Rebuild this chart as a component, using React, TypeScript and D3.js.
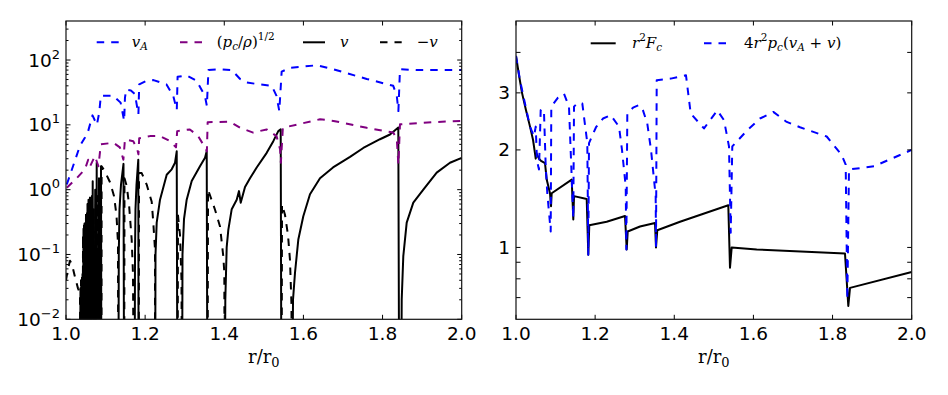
import React from 'react';
import * as d3 from 'd3';

// v changes sign: drop the curve off the bottom of the log axis
const LOW = 1e-4;

// ---- left panel (log y) ----
const vAlfven: [number, number][] = [
  [1.002, 1.2], [1.035, 4.7], [1.048, 6.4], [1.056, 8], [1.067, 14], [1.078, 10], [1.084, 15.5],
  [1.088, 28], [1.120, 28], [1.138, 22], [1.147, 11.5], [1.149, 26], [1.152, 35], [1.164, 34],
  [1.174, 30], [1.183, 14.5], [1.185, 42], [1.204, 48], [1.221, 49], [1.254, 42], [1.271, 28],
  [1.280, 17], [1.282, 55], [1.305, 58], [1.330, 48], [1.351, 28], [1.356, 19.6], [1.360, 70],
  [1.389, 72], [1.419, 70], [1.440, 51], [1.457, 45], [1.490, 42], [1.520, 40], [1.532, 28],
  [1.539, 16.3], [1.545, 66], [1.566, 76], [1.634, 83], [1.676, 72], [1.760, 51], [1.827, 40],
  [1.836, 28], [1.840, 16.3], [1.844, 72], [1.886, 70], [2.0, 70],
];

const soundSpeed: [number, number][] = [
  [1.002, 1.07], [1.027, 1.5], [1.048, 2.06], [1.056, 2.9], [1.061, 2.3], [1.073, 3.3], [1.082, 2.3],
  [1.088, 5.0], [1.120, 5.3], [1.136, 4.5], [1.145, 2.9], [1.149, 6], [1.170, 5.6], [1.180, 4.2],
  [1.183, 3.5], [1.185, 6.2], [1.212, 6.7], [1.238, 6.7], [1.263, 5.6], [1.278, 4.5], [1.281, 8],
  [1.313, 8.5], [1.334, 6.7], [1.351, 4.5], [1.356, 3.9], [1.358, 11], [1.414, 11.2], [1.440, 9],
  [1.473, 7.6], [1.507, 8.5], [1.532, 6.7], [1.541, 4.2], [1.543, 2.6], [1.548, 9], [1.642, 12.2],
  [1.676, 11.5], [1.760, 9], [1.827, 7.6], [1.836, 6], [1.840, 2.45], [1.844, 10.2], [1.928, 11],
  [2.0, 11.5],
];

const vPos: [number, number][] = [
  [1.0354, LOW], [1.0366, 0.03], [1.0379, LOW], [1.0392, 0.04], [1.0404, LOW], [1.0417, 0.05],
  [1.0430, LOW], [1.0442, 0.25], [1.0455, LOW], [1.0468, 0.3], [1.0480, LOW], [1.0493, 0.3],
  [1.0505, LOW], [1.0518, 0.35], [1.0531, LOW], [1.0543, 0.6], [1.0556, LOW], [1.0569, 0.7],
  [1.0581, LOW], [1.0594, 0.55], [1.0607, LOW], [1.0619, 0.7], [1.0632, LOW], [1.0645, 0.6],
  [1.0657, LOW], [1.0675, 1.35], [1.0690, LOW],
  [1.0720, LOW], [1.0738, 1.0], [1.0748, LOW],
  [1.0763, LOW], [1.0776, 2.6], [1.0786, LOW],
  [1.0821, LOW], [1.0834, 1.5], [1.0844, LOW],
  [1.0867, LOW], [1.0885, 2.3], [1.0895, LOW],
  [1.1322, LOW], [1.1334, 0.1], [1.1352, 0.5], [1.1390, 1.2], [1.1453, 2.5], [1.1471, LOW],
  [1.1731, LOW], [1.1744, 0.1], [1.1756, 0.5], [1.1782, 1.2], [1.1827, 2.9], [1.1837, LOW],
  [1.2249, LOW], [1.2262, 0.1], [1.2292, 0.31], [1.2376, 0.7], [1.2545, 1.7], [1.2671, 2.06],
  [1.2755, 2.6], [1.2798, 3.9], [1.2818, LOW],
  [1.2932, LOW], [1.2944, 0.1], [1.2982, 0.35], [1.3050, 0.7], [1.3177, 1.36], [1.3386, 2.3],
  [1.3513, 3.1], [1.3556, 3.9], [1.3576, LOW],
  [1.4011, LOW], [1.4026, 0.02], [1.4061, 0.13], [1.4102, 0.24], [1.4188, 0.5], [1.4314, 0.7],
  [1.4372, 0.95], [1.4415, 0.63], [1.4524, 1.1], [1.4650, 1.5], [1.4819, 2.2], [1.5072, 3.7],
  [1.5239, 5.6], [1.5365, 8.0], [1.5426, 8.5], [1.5446, LOW],
  [1.5711, LOW], [1.5737, 0.02], [1.5787, 0.052], [1.5871, 0.17], [1.5997, 0.39], [1.6166, 0.85],
  [1.6419, 1.5], [1.6748, 2.2], [1.7178, 3.2], [1.7513, 4.4], [1.7935, 6.0], [1.8188, 7.1],
  [1.8398, 9.1], [1.8423, LOW],
  [1.8466, LOW], [1.8484, 0.02], [1.8524, 0.094], [1.8610, 0.31], [1.8777, 0.63], [1.9030, 1.0],
  [1.9368, 1.83], [1.9704, 2.6], [2.0, 3.1],
];

const vNeg: [number, number][] = [
  [1.0, 0.04], [1.0051, 0.06], [1.0101, 0.08], [1.0152, 0.07], [1.0227, 0.045], [1.0303, 0.03],
  [1.0354, 0.025], [1.0366, LOW], [1.0379, 0.04], [1.0392, LOW], [1.0404, 0.05], [1.0417, LOW],
  [1.0430, 0.2], [1.0442, LOW], [1.0455, 0.3], [1.0468, LOW], [1.0480, 0.3], [1.0493, LOW],
  [1.0505, 0.45], [1.0518, LOW], [1.0531, 0.5], [1.0543, LOW], [1.0556, 0.6], [1.0569, LOW],
  [1.0581, 0.5], [1.0594, LOW], [1.0607, 0.85], [1.0619, LOW], [1.0632, 0.6], [1.0645, LOW],
  [1.0657, 0.8], [1.0675, LOW],
  [1.0690, LOW], [1.0703, 0.5], [1.0720, LOW],
  [1.0748, LOW], [1.0756, 0.6], [1.0763, LOW],
  [1.0786, LOW], [1.0804, 0.8], [1.0821, LOW],
  [1.0844, LOW], [1.0854, 1.0], [1.0867, LOW],
  [1.0895, LOW], [1.0900, 2.3], [1.0986, 1.9], [1.1112, 1.3], [1.1213, 0.8], [1.1276, 0.4],
  [1.1314, 0.15], [1.1322, LOW],
  [1.1471, LOW], [1.1478, 1.5], [1.1534, 1.14], [1.1592, 0.6], [1.1660, 0.17], [1.1693, 0.05],
  [1.1719, LOW],
  [1.1837, LOW], [1.1845, 1.8], [1.1913, 1.8], [1.2039, 1.2], [1.2166, 0.65], [1.2206, 0.31],
  [1.2249, 0.12], [1.2254, LOW],
  [1.2818, LOW], [1.2830, 0.4], [1.2881, 0.2], [1.2919, 0.04], [1.2932, LOW],
  [1.3576, LOW], [1.3589, 1.0], [1.3766, 0.49], [1.3892, 0.27], [1.3975, 0.094], [1.4001, 0.052],
  [1.4011, LOW],
  [1.5446, LOW], [1.5459, 0.59], [1.5534, 0.41], [1.5610, 0.2], [1.5660, 0.083], [1.5698, 0.017],
  [1.5711, LOW],
];

// ---- right panel (log y) ----
const fluxFc: [number, number][] = [
  [1.0, 3.9], [1.0076, 3.4], [1.0152, 3.0], [1.0253, 2.65], [1.0354, 2.36], [1.0430, 2.15],
  [1.0480, 1.95], [1.0498, 1.88], [1.0518, 1.95], [1.0581, 1.88], [1.0632, 1.85], [1.0733, 1.82],
  [1.0776, 1.62], [1.0859, 1.47], [1.0885, 1.34], [1.0902, 1.47], [1.1408, 1.62], [1.1448, 1.22],
  [1.1466, 1.44], [1.1787, 1.41], [1.1827, 0.95], [1.1852, 1.17], [1.2292, 1.2], [1.2755, 1.25],
  [1.2798, 0.986], [1.2823, 1.12], [1.3134, 1.16], [1.3513, 1.19], [1.3538, 1.0], [1.3571, 1.13],
  [1.4145, 1.2], [1.5365, 1.35], [1.5408, 0.866], [1.5451, 1.0], [1.6083, 0.986], [1.8314, 0.958],
  [1.8398, 0.66], [1.8441, 0.75], [2.0, 0.84],
];

const fluxAdv: [number, number][] = [
  [1.0, 3.9], [1.0101, 3.28], [1.0227, 2.78], [1.0354, 2.36], [1.0455, 2.2], [1.0498, 2.36],
  [1.0531, 1.85], [1.0581, 1.74], [1.0624, 2.65], [1.0665, 2.68], [1.0708, 2.6], [1.0751, 1.78],
  [1.0791, 1.47], [1.0877, 1.12], [1.0892, 2.72], [1.1061, 2.9], [1.1213, 2.98], [1.1339, 2.72],
  [1.1423, 1.47], [1.1448, 1.23], [1.1466, 2.72], [1.1567, 2.8], [1.1676, 2.78], [1.1802, 2.1],
  [1.1827, 0.95], [1.1845, 2.1], [1.2022, 2.35], [1.2199, 2.5], [1.2393, 2.56], [1.2603, 2.36],
  [1.2679, 2.0], [1.2773, 1.54], [1.2788, 0.986], [1.2813, 2.59], [1.2957, 2.7], [1.3108, 2.75],
  [1.3209, 2.65], [1.3318, 2.41], [1.3412, 2.0], [1.3530, 1.44], [1.3538, 1.0], [1.3556, 3.28],
  [1.3910, 3.32], [1.4296, 3.4], [1.4415, 2.59], [1.4751, 2.33], [1.5087, 2.65], [1.5257, 2.47],
  [1.5383, 2.05], [1.5426, 1.11], [1.5466, 2.05], [1.5845, 2.3], [1.6166, 2.5], [1.6502, 2.62],
  [1.6841, 2.44], [1.7177, 2.35], [1.7852, 2.2], [1.8231, 1.93], [1.8332, 1.8], [1.8373, 0.69],
  [1.8415, 1.74], [1.9047, 1.78], [2.0, 2.0],
];

const xTicks = [1.0, 1.2, 1.4, 1.6, 1.8, 2.0];
const leftMajor = [1e-2, 1e-1, 1, 10, 100];
const leftExp = ['\u22122', '\u22121', '0', '1', '2'];
const rightLabeled = [1, 2, 3];
const rightMinor = [0.7, 0.8, 0.9, 4];

const SANS = 'DejaVu Sans, sans-serif';
const SERIF = 'DejaVu Serif, serif';
const DASH = '7.5,7';

export default function App() {
  const W = 948, H = 395;
  const top = 21, bottom = 319.3;
  const L = { x0: 66, x1: 461.7 };
  const R = { x0: 516, x1: 911.7 };

  const xL = d3.scaleLinear().domain([1, 2]).range([L.x0, L.x1]);
  const xR = d3.scaleLinear().domain([1, 2]).range([R.x0, R.x1]);
  const yL = d3.scaleLog().domain([0.01, 400]).range([bottom, top]);
  const yR = d3.scaleLog().domain([0.6, 5]).range([bottom, top]);

  const lineL = d3.line<[number, number]>().x(d => xL(d[0])).y(d => yL(d[1]));
  const lineR = d3.line<[number, number]>().x(d => xR(d[0])).y(d => yR(d[1]));

  const minorL: number[] = [];
  for (let k = -2; k <= 2; k++) {
    for (let m = 2; m <= 9; m++) {
      const v = m * Math.pow(10, k);
      if (v < 400) minorL.push(v);
    }
  }

  const frame = (x0: number, x1: number) => (
    <rect x={x0} y={top} width={x1 - x0} height={bottom - top} fill="none" stroke="#111" strokeWidth={1.2} />
  );

  const xTickMarks = (x: d3.ScaleLinear<number, number>, key: string) =>
    xTicks.map(t => (
      <g key={key + t}>
        <line x1={x(t)} x2={x(t)} y1={bottom} y2={bottom - 4.5} />
        <line x1={x(t)} x2={x(t)} y1={top} y2={top + 4.5} />
      </g>
    ));

  const yTickMarks = (y: (v: number) => number, vals: number[], x0: number, x1: number, len: number, key: string) =>
    vals.map(v => (
      <g key={key + v}>
        <line x1={x0} x2={x0 + len} y1={y(v)} y2={y(v)} />
        <line x1={x1} x2={x1 - len} y1={y(v)} y2={y(v)} />
      </g>
    ));

  const xLabels = (x: d3.ScaleLinear<number, number>, key: string) =>
    xTicks.map(t => (
      <text key={key + t} x={x(t)} y={340} textAnchor="middle" fontSize={18.5} fontFamily={SANS}>
        {t.toFixed(1)}
      </text>
    ));

  return (
    <svg width={W} height={H} style={{ position: 'absolute', left: 0, top: 0, background: '#fff' }}>
      <defs>
        <clipPath id="clipL"><rect x={L.x0} y={top} width={L.x1 - L.x0} height={bottom - top} /></clipPath>
        <clipPath id="clipR"><rect x={R.x0} y={top} width={R.x1 - R.x0} height={bottom - top} /></clipPath>
      </defs>
      <rect width={W} height={H} fill="#fff" />

      {/* left panel curves */}
      <g clipPath="url(#clipL)" fill="none" strokeWidth={2} strokeLinejoin="round">
        <path d={lineL(vNeg) || ''} stroke="#000" strokeDasharray={DASH} />
        <path d={lineL(vPos) || ''} stroke="#000" />
        <path d={lineL(soundSpeed) || ''} stroke="#800080" strokeDasharray={DASH} />
        <path d={lineL(vAlfven) || ''} stroke="#0000ff" strokeDasharray={DASH} />
      </g>

      {/* right panel curves */}
      <g clipPath="url(#clipR)" fill="none" strokeWidth={2} strokeLinejoin="round">
        <path d={lineR(fluxFc) || ''} stroke="#000" />
        <path d={lineR(fluxAdv) || ''} stroke="#0000ff" strokeDasharray={DASH} />
      </g>

      {/* frames and ticks */}
      <g stroke="#000" strokeWidth={1}>
        {xTickMarks(xL, 'xl')}
        {xTickMarks(xR, 'xr')}
        {yTickMarks(yL, leftMajor, L.x0, L.x1, 4.5, 'lM')}
        {yTickMarks(yL, minorL, L.x0, L.x1, 2.5, 'lm')}
        {yTickMarks(yR, rightLabeled, R.x0, R.x1, 4.5, 'rM')}
        {yTickMarks(yR, rightMinor, R.x0, R.x1, 4.5, 'rm')}
      </g>
      {frame(L.x0, L.x1)}
      {frame(R.x0, R.x1)}

      {/* tick labels */}
      {xLabels(xL, 'lx')}
      {xLabels(xR, 'rx')}
      {leftMajor.map((v, i) => (
        <text key={'ly' + v} x={60} y={yL(v) + 6.5} textAnchor="end" fontSize={18.5} fontFamily={SANS}>
          10<tspan dy={-8} fontSize={13}>{leftExp[i]}</tspan>
        </text>
      ))}
      {rightLabeled.map(v => (
        <text key={'ry' + v} x={510} y={yR(v) + 6.5} textAnchor="end" fontSize={18.5} fontFamily={SANS}>
          {v}
        </text>
      ))}

      {/* axis titles */}
      {[L, R].map((p, i) => (
        <text key={'t' + i} x={(p.x0 + p.x1) / 2} y={363} textAnchor="middle" fontSize={18} fontFamily={SERIF}>
          r/r<tspan dy={4} fontSize={13}>0</tspan>
        </text>
      ))}

      {/* left legend */}
      <g fill="none" strokeWidth={2}>
        <line x1={96.7} x2={120} y1={42.3} y2={42.3} stroke="#0000ff" strokeDasharray={DASH} />
        <line x1={180} x2={203.3} y1={42.3} y2={42.3} stroke="#800080" strokeDasharray={DASH} />
        <line x1={303} x2={325} y1={42.3} y2={42.3} stroke="#000" />
        <line x1={380} x2={401.7} y1={42.3} y2={42.3} stroke="#000" strokeDasharray={DASH} />
      </g>
      <g fontFamily={SERIF} fontSize={15}>
        <text x={131.7} y={47}>
          <tspan fontStyle="italic">v</tspan>
          <tspan dy={3} fontSize={10.5} fontStyle="italic">A</tspan>
        </text>
        <text x={216.7} y={47}>
          (<tspan fontStyle="italic">p</tspan>
          <tspan dy={3} fontSize={10.5} fontStyle="italic">c</tspan>
          <tspan dy={-3}>/</tspan>
          <tspan fontStyle="italic">ρ</tspan>)
          <tspan dy={-7} fontSize={10.5}>1/2</tspan>
        </text>
        <text x={340} y={47} fontStyle="italic">v</text>
        <text x={416.7} y={47}>
          −<tspan fontStyle="italic">v</tspan>
        </text>
      </g>

      {/* right legend */}
      <g fill="none" strokeWidth={2}>
        <line x1={590.7} x2={615.7} y1={43.3} y2={43.3} stroke="#000" />
        <line x1={704} x2={729} y1={43.3} y2={43.3} stroke="#0000ff" strokeDasharray={DASH} />
      </g>
      <g fontFamily={SERIF} fontSize={15}>
        <text x={632} y={48}>
          <tspan fontStyle="italic">r</tspan>
          <tspan dy={-7} fontSize={10.5}>2</tspan>
          <tspan dy={7} fontStyle="italic">F</tspan>
          <tspan dy={3} fontSize={10.5} fontStyle="italic">c</tspan>
        </text>
        <text x={744} y={48}>
          4<tspan fontStyle="italic">r</tspan>
          <tspan dy={-7} fontSize={10.5}>2</tspan>
          <tspan dy={7} fontStyle="italic">p</tspan>
          <tspan dy={3} fontSize={10.5} fontStyle="italic">c</tspan>
          <tspan dy={-3}>(</tspan>
          <tspan fontStyle="italic">v</tspan>
          <tspan dy={3} fontSize={10.5} fontStyle="italic">A</tspan>
          <tspan dy={-3}> + </tspan>
          <tspan fontStyle="italic">v</tspan>)
        </text>
      </g>
    </svg>
  );
}
